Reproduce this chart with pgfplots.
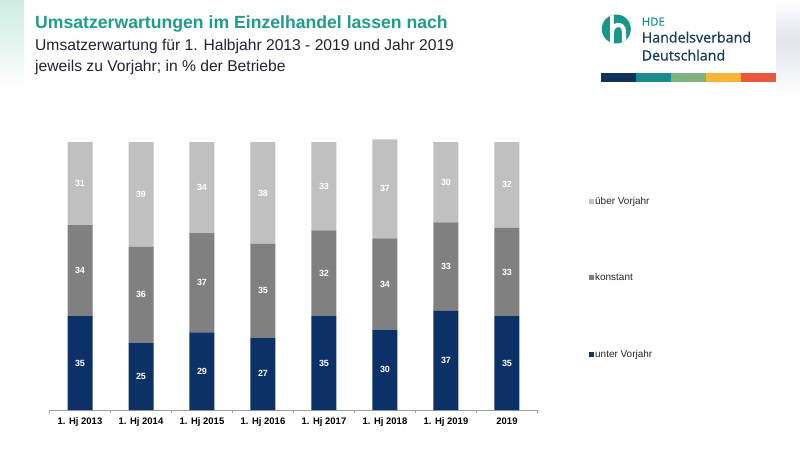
\documentclass[border=0pt]{standalone}
\usepackage{pgfplots}
\usepackage{pgfplotstable}
\pgfplotsset{compat=1.18}
\usepackage{fontspec}
\setmainfont{Liberation Sans}
\newfontfamily\logofont{Open Sans}[FakeBold=0.6]
\definecolor{navy}{HTML}{0B3166}
\definecolor{midgray}{HTML}{808080}
\definecolor{lgray}{HTML}{C0C0C0}
\definecolor{titleteal}{HTML}{1E9E8A}
\definecolor{subtxt}{HTML}{1E2633}
\definecolor{logoteal}{HTML}{17968A}
\definecolor{logonavy}{HTML}{173A5E}
\definecolor{cbnavy}{HTML}{10315A}
\definecolor{cbteal}{HTML}{1A8C8C}
\definecolor{cbgreen}{HTML}{7FB27F}
\definecolor{cbyellow}{HTML}{F7B538}
\definecolor{cbred}{HTML}{E9573F}

\pgfplotstableread{
x unter konstant ueber
0 35 34 31
1 25 36 39
2 29 37 34
3 27 35 38
4 35 32 33
5 30 34 37
6 37 33 30
7 35 33 32
}\data

\begin{document}
\begin{tikzpicture}
\useasboundingbox (0,0) rectangle (800bp,-450bp);
\fill[white] (0,0) rectangle (800bp,-450bp);
% blurred edges
\shade[top color={rgb,255:red,205;green,236;blue,226}, middle color={rgb,255:red,205;green,209;blue,218}, bottom color=white] (0,0) rectangle (24bp,-88bp);
\shade[top color=white, bottom color={rgb,255:red,226;green,228;blue,234}] (776bp,0) rectangle (800bp,-40bp);
\shade[top color={rgb,255:red,226;green,228;blue,234}, middle color={rgb,255:red,242;green,180;blue,166}, bottom color=white] (776bp,-40bp) rectangle (800bp,-95bp);

% titles
\node[anchor=base west, inner sep=0, text=titleteal, font=\fontsize{17.7}{20}\bfseries\selectfont] at (35bp,-28bp) {Umsatzerwartungen im Einzelhandel lassen nach};
\node[anchor=base west, inner sep=0, text=subtxt, font=\fontsize{15.7}{18}\selectfont] at (35bp,-50bp) {Umsatzerwartung für 1. Halbjahr 2013 - 2019 und Jahr 2019};
\node[anchor=base west, inner sep=0, text=subtxt, font=\fontsize{15.7}{18}\selectfont] at (35bp,-71bp) {jeweils zu Vorjahr; in \% der Betriebe};

% logo
\fill[logoteal] (616.3bp,-29bp) circle (14.5bp);
\begin{scope}
\clip (616.3bp,-29bp) circle (14.5bp);
\draw[white, line width=4.2bp] (611.8bp,-10bp) -- (611.8bp,-48bp);
\draw[white, line width=4.2bp] (611.8bp,-33bp) .. controls (612bp,-23bp) and (624bp,-22bp) .. (624bp,-32bp) -- (624bp,-48bp);
\end{scope}
\node[anchor=base west, inner sep=0, text=logoteal, font=\logofont\fontsize{11.5}{12}\selectfont] at (641.5bp,-25.7bp) {HDE};
\node[anchor=base west, inner sep=0, text=logonavy, font=\logofont\fontsize{14.3}{15}\selectfont] at (641.5bp,-42.5bp) {Handelsverband};
\node[anchor=base west, inner sep=0, text=logonavy, font=\logofont\fontsize{14.3}{15}\selectfont] at (641.5bp,-60.5bp) {Deutschland};
\fill[cbnavy] (600.7bp,-72.7bp) rectangle (635.7bp,-81.7bp);
\fill[cbteal] (635.7bp,-72.7bp) rectangle (670.7bp,-81.7bp);
\fill[cbgreen] (670.7bp,-72.7bp) rectangle (705.7bp,-81.7bp);
\fill[cbyellow] (705.7bp,-72.7bp) rectangle (740.7bp,-81.7bp);
\fill[cbred] (740.7bp,-72.7bp) rectangle (775.7bp,-81.7bp);

\begin{axis}[
  at={(49.5bp,-410bp)}, anchor=south west,
  scale only axis, width=488bp, height=268bp,
  ybar stacked, bar width=25bp,
  xmin=-0.5, xmax=7.5, ymin=0, ymax=100,
  clip=false,
  axis y line=none,
  axis x line*=bottom,
  x axis line style={-},
  axis line style={draw=gray!75, line width=0.8bp},
  xtick={0,...,7},
  xticklabels={1. Hj 2013, 1. Hj 2014, 1. Hj 2015, 1. Hj 2016, 1. Hj 2017, 1. Hj 2018, 1. Hj 2019, 2019},
  major tick length=0pt,
  xticklabel style={font=\fontsize{9.5}{11}\bfseries\selectfont, text=black, yshift=-4bp},
  extra x ticks={-0.5,0.5,...,7.5},
  extra x tick labels={},
  extra x tick style={major tick length=3bp, tick align=outside, tick style={draw=gray!75, line width=0.8bp}},
  /pgf/number format/assume math mode=true,
  point meta=explicit,
  nodes near coords,
  nodes near coords style={font=\fontsize{9}{10}\bfseries\selectfont, text=white, anchor=center},
  legend style={at={(1.1055,0.800)}, anchor=north west, draw=none, fill=none,
    font=\fontsize{10}{11}\selectfont, text=black!85, row sep=65.8bp, inner sep=0pt,
    nodes={inner sep=1bp}},
  legend cell align=left,
  reverse legend,
  legend image code/.code={\fill[#1] (0bp,-2.5bp) rectangle (5bp,2.5bp);},
]
\addplot[fill=navy, draw=none] table[x=x, y=unter, meta=unter]{\data};
\addlegendentry{unter Vorjahr}
\addplot[fill=midgray, draw=none] table[x=x, y=konstant, meta=konstant]{\data};
\addlegendentry{konstant}
\addplot[fill=lgray, draw=none] table[x=x, y=ueber, meta=ueber]{\data};
\addlegendentry{über Vorjahr}
\end{axis}
\end{tikzpicture}
\end{document}
